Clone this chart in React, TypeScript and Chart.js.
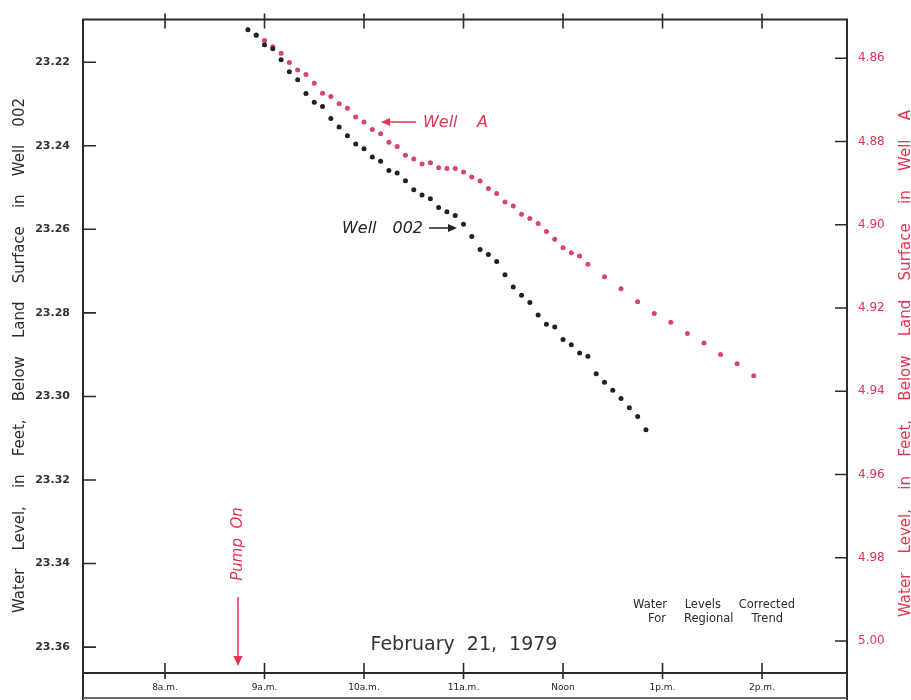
import React, { useEffect, useRef } from "react";
import { Chart, registerables } from "chart.js";

Chart.register(...registerables);

// ---------- DATA ----------
const well002Times = [
  "8:50", "8:55", "9:00", "9:05", "9:10", "9:15", "9:20", "9:25", "9:30", "9:35",
  "9:40", "9:45", "9:50", "9:55", "10:00", "10:05", "10:10", "10:15", "10:20", "10:25",
  "10:30", "10:35", "10:40", "10:45", "10:50", "10:55", "11:00", "11:05", "11:10", "11:15",
  "11:20", "11:25", "11:30", "11:35", "11:40", "11:45", "11:50", "11:55", "12:00", "12:05",
  "12:10", "12:15", "12:20", "12:25", "12:30", "12:35", "12:40", "12:45", "12:50",
];
const well002Depth = [
  23.2122, 23.2135, 23.2158, 23.2168, 23.2194, 23.2223, 23.2242, 23.2275, 23.2296, 23.2306,
  23.2335, 23.2355, 23.2376, 23.2396, 23.2407, 23.2427, 23.2437, 23.2459, 23.2465, 23.2484,
  23.2505, 23.2518, 23.2527, 23.2548, 23.2558, 23.2567, 23.2588, 23.2617, 23.2648, 23.266,
  23.2677, 23.2709, 23.2738, 23.2758, 23.2775, 23.2805, 23.2827, 23.2834, 23.2864, 23.2876,
  23.2896, 23.2904, 23.2946, 23.2966, 23.2985, 23.3005, 23.3027, 23.3048, 23.308,
];

const wellATimes = [
  "8:55", "9:00", "9:05", "9:10", "9:15", "9:20", "9:25", "9:30", "9:35", "9:40",
  "9:45", "9:50", "9:55", "10:00", "10:05", "10:10", "10:15", "10:20", "10:25", "10:30",
  "10:35", "10:40", "10:45", "10:50", "10:55", "11:00", "11:05", "11:10", "11:15", "11:20",
  "11:25", "11:30", "11:35", "11:40", "11:45", "11:50", "11:55", "12:00", "12:05", "12:10",
  "12:15", "12:25", "12:35", "12:45", "12:55", "13:05", "13:15", "13:25", "13:35", "13:45",
  "13:55",
];
const wellADepth = [
  4.8545, 4.8557, 4.8572, 4.8588, 4.861, 4.8628, 4.8639, 4.866, 4.8684, 4.8692,
  4.8709, 4.872, 4.8741, 4.8753, 4.8771, 4.8781, 4.8802, 4.8812, 4.8833, 4.8842,
  4.8854, 4.8851, 4.8863, 4.8865, 4.8865, 4.8873, 4.8885, 4.8895, 4.8913, 4.8925,
  4.8945, 4.8955, 4.8975, 4.8985, 4.8997, 4.9016, 4.9035, 4.9055, 4.9067, 4.9075,
  4.9095, 4.9125, 4.9154, 4.9185, 4.9213, 4.9234, 4.9261, 4.9284, 4.9312, 4.9334,
  4.9363,
];

const hourTicks = [8, 9, 10, 11, 12, 13, 14];
const hourTickLabels = ["8a.m.", "9a.m.", "10a.m.", "11a.m.", "Noon", "1p.m.", "2p.m."];
const leftTicks = [23.22, 23.24, 23.26, 23.28, 23.3, 23.32, 23.34, 23.36];
const rightTicks = [4.86, 4.88, 4.9, 4.92, 4.94, 4.96, 4.98, 5.0];
const pumpOnTime = "8:44";

const leftTitleWords = ["Water", "Level,", "in", "Feet,", "Below", "Land", "Surface", "in", "Well", "002"];
const rightTitleWords = ["Water", "Level,", "in", "Feet,", "Below", "Land", "Surface", "in", "Well", "A"];
const dateLabel = "February  21,  1979";
const noteLine1 = ["Water", "Levels", "Corrected"];
const noteLine2 = ["For", "Regional", "Trend"];

// ---------- HELPERS ----------
const toHours = (t: string) => {
  const [h, m] = t.split(":").map(Number);
  return h + m / 60;
};

const RED_TEXT = "#e2334f";
const RED_PT = "#d8456a";
const DARK = "#222222";
const FONT = "'DejaVu Sans', sans-serif";

function spacedWords(ctx: CanvasRenderingContext2D, words: string[], start: number, end: number) {
  const widths = words.map((w) => ctx.measureText(w).width);
  const total = widths.reduce((a, b) => a + b, 0);
  const gap = (end - start - total) / (words.length - 1);
  let x = start;
  words.forEach((w, i) => {
    ctx.fillText(w, x, 0);
    x += widths[i] + gap;
  });
}

function arrowHead(ctx: CanvasRenderingContext2D, x: number, y: number, dir: "left" | "right" | "down", size: number) {
  ctx.beginPath();
  if (dir === "left") {
    ctx.moveTo(x, y);
    ctx.lineTo(x + size, y - size * 0.45);
    ctx.lineTo(x + size, y + size * 0.45);
  } else if (dir === "right") {
    ctx.moveTo(x, y);
    ctx.lineTo(x - size, y - size * 0.45);
    ctx.lineTo(x - size, y + size * 0.45);
  } else {
    ctx.moveTo(x, y);
    ctx.lineTo(x - size * 0.45, y - size);
    ctx.lineTo(x + size * 0.45, y - size);
  }
  ctx.closePath();
  ctx.fill();
}

const framePlugin = {
  id: "frameAndNotes",
  afterDraw(chart: any) {
    const { ctx, chartArea } = chart;
    const { left, right, top, bottom } = chartArea;
    const sx = chart.scales.x;
    const sl = chart.scales.yL;
    const sr = chart.scales.yR;
    const H = chart.height;
    ctx.save();

    // frame
    ctx.strokeStyle = "#2a2a2a";
    ctx.lineWidth = 2;
    ctx.beginPath();
    ctx.moveTo(left, top);
    ctx.lineTo(right, top);
    ctx.moveTo(left, top - 1);
    ctx.lineTo(left, H);
    ctx.moveTo(right, top - 1);
    ctx.lineTo(right, H);
    ctx.moveTo(left, bottom);
    ctx.lineTo(right, bottom);
    ctx.stroke();
    ctx.strokeStyle = "#666";
    ctx.beginPath();
    ctx.moveTo(left, H - 2);
    ctx.lineTo(right, H - 2);
    ctx.stroke();

    // ticks
    ctx.strokeStyle = "#2a2a2a";
    ctx.lineWidth = 1.6;
    ctx.beginPath();
    hourTicks.forEach((h) => {
      const x = sx.getPixelForValue(h);
      ctx.moveTo(x, top - 6);
      ctx.lineTo(x, top + 9);
      ctx.moveTo(x, bottom - 10);
      ctx.lineTo(x, bottom + 6);
    });
    leftTicks.forEach((v) => {
      const y = sl.getPixelForValue(v);
      ctx.moveTo(left, y);
      ctx.lineTo(left + 13, y);
    });
    rightTicks.forEach((v) => {
      const y = sr.getPixelForValue(v);
      ctx.moveTo(right - 12, y);
      ctx.lineTo(right, y);
    });
    ctx.stroke();

    // axis titles
    ctx.textBaseline = "middle";
    ctx.textAlign = "left";
    ctx.font = `15px ${FONT}`;
    ctx.fillStyle = "#2b2b2b";
    ctx.save();
    ctx.translate(20, 613);
    ctx.rotate(-Math.PI / 2);
    spacedWords(ctx, leftTitleWords, 0, 613 - 98);
    ctx.restore();
    ctx.fillStyle = RED_TEXT;
    ctx.save();
    ctx.translate(906, 617);
    ctx.rotate(-Math.PI / 2);
    spacedWords(ctx, rightTitleWords, 0, 617 - 110);
    ctx.restore();

    // Well A label
    ctx.fillStyle = RED_TEXT;
    ctx.strokeStyle = RED_TEXT;
    ctx.font = `italic 16px ${FONT}`;
    ctx.save();
    ctx.translate(0, 123);
    spacedWords(ctx, ["Well", "A"], 423, 488);
    ctx.restore();
    ctx.lineWidth = 1.5;
    ctx.beginPath();
    ctx.moveTo(416, 122);
    ctx.lineTo(388, 122);
    ctx.stroke();
    arrowHead(ctx, 381, 122, "left", 9);

    // Well 002 label
    ctx.fillStyle = DARK;
    ctx.strokeStyle = DARK;
    ctx.save();
    ctx.translate(0, 229);
    spacedWords(ctx, ["Well", "002"], 342, 423);
    ctx.restore();
    ctx.beginPath();
    ctx.moveTo(429, 228);
    ctx.lineTo(450, 228);
    ctx.stroke();
    arrowHead(ctx, 457, 228, "right", 9);

    // Pump On
    const px = sx.getPixelForValue(toHours(pumpOnTime));
    ctx.fillStyle = RED_TEXT;
    ctx.strokeStyle = RED_TEXT;
    ctx.save();
    ctx.translate(px, 544);
    ctx.rotate(-Math.PI / 2);
    ctx.textAlign = "center";
    ctx.font = `italic 15px ${FONT}`;
    ctx.fillText("Pump  On", 0, 0);
    ctx.restore();
    ctx.lineWidth = 1.5;
    ctx.beginPath();
    ctx.moveTo(px, 597);
    ctx.lineTo(px, 658);
    ctx.stroke();
    arrowHead(ctx, px, 666, "down", 10);

    // date
    ctx.fillStyle = "#333";
    ctx.textAlign = "center";
    ctx.font = `19px ${FONT}`;
    ctx.fillText(dateLabel, 464, 645);

    // note
    ctx.textAlign = "left";
    ctx.fillStyle = "#2a2a2a";
    ctx.font = `11.5px ${FONT}`;
    ctx.save();
    ctx.translate(0, 605);
    spacedWords(ctx, noteLine1, 633, 795);
    ctx.restore();
    ctx.save();
    ctx.translate(0, 619);
    spacedWords(ctx, noteLine2, 648, 783);
    ctx.restore();

    ctx.restore();
  },
};

export default function App() {
  const ref = useRef<HTMLCanvasElement | null>(null);

  useEffect(() => {
    if (!ref.current) return;
    const chart = new Chart(ref.current, {
      type: "scatter",
      data: {
        datasets: [
          {
            label: "Well 002",
            data: well002Times.map((t, i) => ({ x: toHours(t), y: well002Depth[i] })),
            yAxisID: "yL",
            backgroundColor: DARK,
            borderColor: DARK,
            borderWidth: 0,
            pointRadius: 2.5,
          },
          {
            label: "Well A",
            data: wellATimes.map((t, i) => ({ x: toHours(t), y: wellADepth[i] })),
            yAxisID: "yR",
            backgroundColor: RED_PT,
            borderColor: RED_PT,
            borderWidth: 0,
            pointRadius: 2.5,
          },
        ],
      },
      options: {
        responsive: false,
        animation: false,
        layout: { padding: { top: 17, left: 0, right: 0, bottom: 0 } },
        plugins: { legend: { display: false }, tooltip: { enabled: false } },
        scales: {
          x: {
            type: "linear",
            position: "bottom",
            min: 7.1759,
            max: 14.854,
            grid: { display: false, drawTicks: false },
            border: { display: false },
            afterBuildTicks: (s: any) => {
              s.ticks = hourTicks.map((v) => ({ value: v }));
            },
            afterFit: (s: any) => {
              s.height = 27;
            },
            ticks: {
              autoSkip: false,
              maxRotation: 0,
              padding: 9,
              color: "#222",
              font: { family: "'DejaVu Sans', sans-serif", size: 9 },
              callback: (v: any) => hourTickLabels[hourTicks.indexOf(Number(v))],
            },
          },
          yL: {
            type: "linear",
            position: "left",
            reverse: true,
            min: 23.2098,
            max: 23.3662,
            grid: { display: false, drawTicks: false },
            border: { display: false },
            afterBuildTicks: (s: any) => {
              s.ticks = leftTicks.map((v) => ({ value: v }));
            },
            afterFit: (s: any) => {
              s.width = 83;
            },
            ticks: {
              padding: 13,
              color: "#333",
              font: { family: "'DejaVu Sans', sans-serif", size: 11, weight: "bold" },
              callback: (v: any) => Number(v).toFixed(2),
            },
          },
          yR: {
            type: "linear",
            position: "right",
            reverse: true,
            min: 4.8507,
            max: 5.0077,
            grid: { display: false, drawTicks: false },
            border: { display: false },
            afterBuildTicks: (s: any) => {
              s.ticks = rightTicks.map((v) => ({ value: v }));
            },
            afterFit: (s: any) => {
              s.width = 64;
            },
            ticks: {
              padding: 11,
              color: RED_TEXT,
              font: { family: "'DejaVu Sans', sans-serif", size: 12 },
              callback: (v: any) => Number(v).toFixed(2),
            },
          },
        },
      },
      plugins: [framePlugin],
    } as any);
    return () => chart.destroy();
  }, []);

  return (
    <div style={{ position: "absolute", left: 0, top: 0, width: 911, height: 700, background: "#fff" }}>
      <canvas ref={ref} width={911} height={700} style={{ display: "block" }} />
    </div>
  );
}
